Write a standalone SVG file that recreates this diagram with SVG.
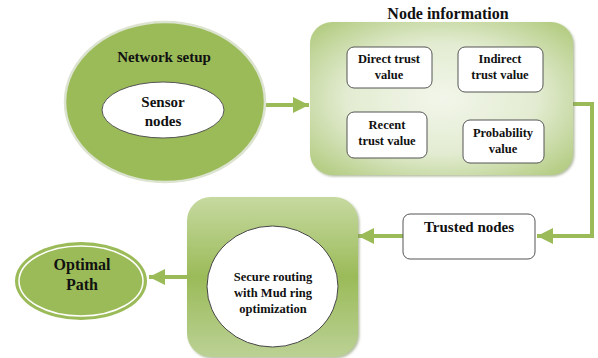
<svg xmlns="http://www.w3.org/2000/svg" width="598" height="358" viewBox="0 0 598 358">
<defs>
<radialGradient id="gInfo" cx="50%" cy="50%" r="65%">
<stop offset="0" stop-color="#F2F6EA"/>
<stop offset="0.55" stop-color="#E3ECD2"/>
<stop offset="1" stop-color="#B5CD85"/>
</radialGradient>
<linearGradient id="gSecure" x1="0" y1="0" x2="0" y2="1">
<stop offset="0" stop-color="#C6D9A0"/>
<stop offset="0.5" stop-color="#9BBB59"/>
<stop offset="1" stop-color="#BBD195"/>
</linearGradient>
<marker id="ah" viewBox="0 0 10 10" refX="10" refY="5" markerWidth="4" markerHeight="4" markerUnits="strokeWidth" orient="auto">
<path d="M0,0 L10,5 L0,10 Z" fill="#9BBB59"/>
</marker>
<filter id="sh" x="-10%" y="-10%" width="125%" height="125%">
<feDropShadow dx="1.5" dy="1.5" stdDeviation="1" flood-color="#7F8F60" flood-opacity="0.6"/>
</filter>
</defs>
<style>
text{font-family:"Liberation Serif","Times New Roman",serif;font-weight:bold;fill:#111;text-anchor:middle}
.conn{fill:none;stroke:#9BBB59;stroke-width:4}
.ib{fill:#fff;stroke:#555;stroke-width:1}
</style>
<rect width="598" height="358" fill="#fff"/>

<g id="connectors">
<line class="conn" x1="265" y1="105" x2="309" y2="105" marker-end="url(#ah)"/>
<polyline class="conn" points="573,104 592,104 592,236 537,236" marker-end="url(#ah)"/>
<line class="conn" x1="403" y1="236" x2="358" y2="236" marker-end="url(#ah)"/>
<line class="conn" x1="187" y1="277" x2="149" y2="277" stroke-width="3.5" marker-end="url(#ah)"/>
</g>

<g id="network-setup">
<ellipse cx="165" cy="102" rx="100" ry="80" fill="#9BBB59" stroke="#DCE3D0" stroke-width="2.5"/>
<text x="164" y="62" font-size="15">Network setup</text>
<g id="sensor-nodes">
<ellipse cx="163" cy="110" rx="61" ry="28" fill="#fff" stroke="#555" stroke-width="1"/>
<text x="163" y="107" font-size="15">Sensor</text>
<text x="163" y="126" font-size="15">nodes</text>
</g>
</g>

<g id="node-information">
<text x="448" y="19" font-size="16">Node information</text>
<rect x="310" y="22" width="263" height="153" rx="22" fill="url(#gInfo)" filter="url(#sh)"/>
<g id="direct-trust">
<rect class="ib" x="347" y="47" width="85" height="41" rx="7"/>
<text x="389" y="63" font-size="12.5">Direct trust</text>
<text x="389" y="79" font-size="12.5">value</text>
</g>
<g id="indirect-trust">
<rect class="ib" x="458" y="47" width="85" height="45" rx="7"/>
<text x="500" y="63" font-size="12.5">Indirect</text>
<text x="500" y="79" font-size="12.5">trust value</text>
</g>
<g id="recent-trust">
<rect class="ib" x="347" y="112" width="80" height="46" rx="7"/>
<text x="387" y="129" font-size="12.5">Recent</text>
<text x="387" y="145" font-size="12.5">trust value</text>
</g>
<g id="probability">
<rect class="ib" x="463" y="120" width="81" height="43" rx="7"/>
<text x="503" y="137" font-size="12.5">Probability</text>
<text x="503" y="153" font-size="12.5">value</text>
</g>
</g>

<g id="trusted-nodes">
<rect class="ib" x="403" y="214" width="132" height="45" rx="7"/>
<text x="469" y="232" font-size="15">Trusted nodes</text>
</g>

<g id="secure-routing">
<rect x="187" y="197" width="171" height="160" rx="24" fill="url(#gSecure)" filter="url(#sh)"/>
<ellipse cx="272.5" cy="286.5" rx="65.5" ry="60.5" fill="#fff" stroke="#444" stroke-width="1"/>
<text x="273" y="281" font-size="12.5">Secure routing</text>
<text x="273" y="297" font-size="12.5">with Mud ring</text>
<text x="273" y="313" font-size="12.5">optimization</text>
</g>

<g id="optimal-path">
<ellipse cx="81" cy="281" rx="66" ry="39" fill="#9BBB59"/>
<ellipse cx="81" cy="281" rx="62" ry="35" fill="none" stroke="#fff" stroke-width="1.5"/>
<text x="82" y="270" font-size="16">Optimal</text>
<text x="82" y="290" font-size="16">Path</text>
</g>
</svg>
